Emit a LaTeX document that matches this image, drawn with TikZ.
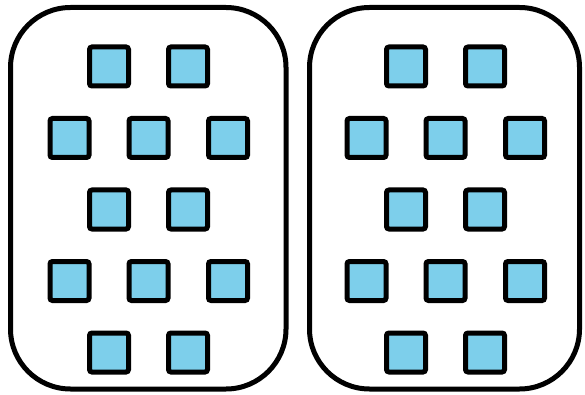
\documentclass[tikz,border=0pt]{standalone}
\definecolor{sqblue}{HTML}{7DCFEB}
\tikzset{
  panel/.style={draw=black, line width=5pt, rounded corners=60pt, fill=white},
  tile/.style={draw=black, line width=5pt, fill=sqblue, rounded corners=2.5pt,
               minimum width=39pt, minimum height=39pt, inner sep=0pt, shape=rectangle}
}
\begin{document}
\begin{tikzpicture}[x=1pt,y=-1pt]
\useasboundingbox (0,0) rectangle (585,395);
\draw[panel] (10.5,7.5) rectangle (286,389);
\draw[panel] (309.5,7.5) rectangle (579.5,389);
\foreach \p/\dx in {L/0, R/297}{
  \foreach \r/\y in {1/66.5,3/209.5,5/352.5}{
    \node[tile] (\p-\r-a) at (109+\dx,\y) {};
    \node[tile] (\p-\r-b) at (188+\dx,\y) {};
  }
  \foreach \r/\y in {2/138,4/281}{
    \node[tile] (\p-\r-a) at (69.5+\dx,\y) {};
    \node[tile] (\p-\r-b) at (148.5+\dx,\y) {};
    \node[tile] (\p-\r-c) at (228+\dx,\y) {};
  }
}
\end{tikzpicture}
\end{document}
